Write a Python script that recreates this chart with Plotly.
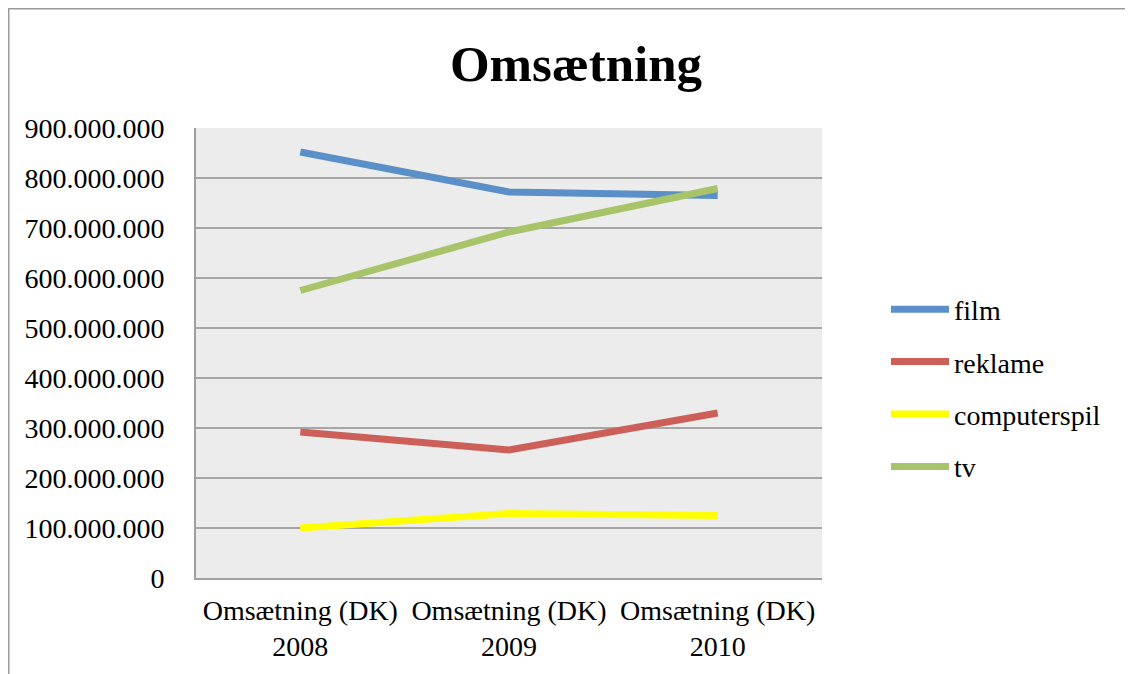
import plotly.graph_objects as go

categories = ["Omsætning (DK)<br>2008", "Omsætning (DK)<br>2009", "Omsætning (DK)<br>2010"]
film = [852_000_000, 772_000_000, 765_000_000]
reklame = [292_000_000, 256_000_000, 330_000_000]
computerspil = [100_000_000, 129_000_000, 125_000_000]
tv = [575_000_000, 692_000_000, 779_000_000]
y_ticks = [0, 100_000_000, 200_000_000, 300_000_000, 400_000_000,
           500_000_000, 600_000_000, 700_000_000, 800_000_000, 900_000_000]

series = [
    ("film", film, "#5a8fc7"),
    ("reklame", reklame, "#cc5f58"),
    ("computerspil", computerspil, "#ffff00"),
    ("tv", tv, "#a8c46b"),
]

OFF = 8  # page body margin
W, H = 1133 - OFF, 674 - OFF
# plot area in page pixels
L, R, T, B = 196 - OFF, 822 - OFF, 128 - OFF, 578 - OFF

fig = go.Figure()
for name, vals, col in series:
    fig.add_trace(go.Scatter(
        x=categories, y=vals, name=name, mode="lines",
        line=dict(color=col, width=7),
        legendgroup=name,
    ))

def px_x(p):
    return (p - OFF - L) / (R - L)

def px_y(p):
    return (B - (p - OFF)) / (B - T)

shapes = [
    dict(type="line", xref="paper", yref="paper", x0=px_x(8), x1=px_x(1140),
         y0=px_y(8.5), y1=px_y(8.5), line=dict(color="#9a9a9a", width=2)),
    dict(type="line", xref="paper", yref="paper", x0=px_x(8.5), x1=px_x(8.5),
         y0=px_y(8), y1=px_y(690), line=dict(color="#9a9a9a", width=2)),
]

fig.update_layout(
    width=W, height=H,
    margin=dict(l=L, r=W - R, t=T, b=H - B, pad=0),
    paper_bgcolor="white",
    plot_bgcolor="#ececec",
    separators=",.",
    font=dict(family="Liberation Serif", size=28, color="black"),
    title=dict(text="<b>Omsætning</b>", x=(576 - OFF) / W, xanchor="center",
               y=1 - (63 - OFF) / H, yanchor="middle", yref="container",
               font=dict(family="Liberation Serif", size=51, color="black")),
    xaxis=dict(type="category", range=[-0.5, 2.5], showgrid=False,
               showline=True, linecolor="#a0a0a0", linewidth=2,
               ticks="", tickfont=dict(size=28), ticklabelstandoff=6),
    yaxis=dict(range=[0, 900_000_000], tickvals=y_ticks, tickformat=",d",
               showgrid=True, gridcolor="#a6a6a6", gridwidth=2,
               showline=True, linecolor="#a0a0a0", linewidth=2,
               zeroline=False, ticks="", tickfont=dict(size=28),
               ticklabelstandoff=24),
    legend=dict(x=px_x(886), xanchor="left", y=px_y(388), yanchor="middle",
                traceorder="grouped", tracegroupgap=13, itemwidth=58,
                font=dict(size=28), bgcolor="rgba(0,0,0,0)"),
    shapes=shapes,
)

fig.write_html("out.html")
